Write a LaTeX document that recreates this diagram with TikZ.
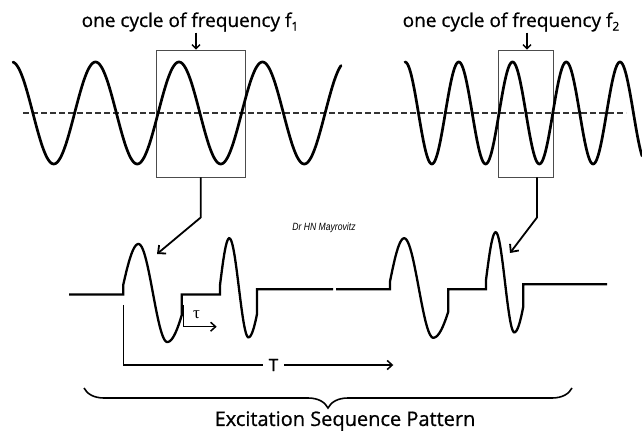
\documentclass[tikz,border=0pt]{standalone}
\usepackage{fontspec}
\setmainfont{Open Sans}[FakeBold=0.7]
\newfontfamily\sigfont{Liberation Sans}
\newfontfamily\greekfont{Liberation Serif}
\usetikzlibrary{arrows.meta,decorations.pathreplacing}
% #1 x0, #2 x peak, #3 x trough, #4 x1, #5 centre, #6 amplitude, #7 start phase, #8 end phase
\newcommand{\pulse}[8]{%
 -- plot[domain=#1:#2,samples=30] (\x,{#5-#6*sin(#7+(\x-#1)/(#2-#1)*(90-#7))})
 -- plot[domain=#2:#3,samples=50] (\x,{#5-#6*sin(90+(\x-#2)/(#3-#2)*180)})
 -- plot[domain=#3:#4,samples=25] (\x,{#5-#6*sin(270+(\x-#3)/(#4-#3)*(#8-270))})
}
\newcommand{\subone}[1]{\raisebox{-0.35ex}{\fontsize{12}{12}\selectfont #1}}
\begin{document}
\begin{tikzpicture}[x=1pt,y=-1pt,
  wave/.style={line width=2.7pt,line join=round,line cap=round},
  sig/.style={line width=2.3pt,line join=miter},
  midline/.style={line width=1.6pt,black!80,dash pattern=on 5.5pt off 3.5pt},
  framebox/.style={draw=black!70,line width=0.9pt,minimum width=#1,minimum height=127pt,inner sep=0pt},
  titletext/.style={font=\fontsize{19}{21}\selectfont,inner sep=1pt},
  smallarr/.style={line width=1.3pt,-{Straight Barb[length=4pt,width=8pt]}},
  conn/.style={line width=1.8pt,-{Straight Barb[length=6pt,width=11pt]}},
  timearr/.style={line width=1.5pt},
  timehead/.style={line width=1.5pt,-{Straight Barb[length=5pt,width=9pt]}},
  bracestyle/.style={line width=1.6pt,decorate,decoration={brace,amplitude=20pt,mirror}}
]
\fill[white] (0,0) rectangle (642,435);
\useasboundingbox (0,0) rectangle (642,435);

% titles
\node[titletext] (t1) at (190,22) {one cycle of frequency f\subone{1}};
\node[titletext] (t2) at (511,22) {one cycle of frequency f\subone{2}};

% frames
\node[framebox=88.5pt] (b1) at (200.75,113.5) {};
\node[framebox=55pt] (b2) at (525.5,113.5) {};

% dashed mid line
\coordinate (m0) at (23,113);
\coordinate (m1) at (626,113);
\draw[midline] (m0) -- (m1);

% carrier waves
\draw[wave] plot[domain=13:341,samples=300] (\x,{113-51*cos((\x-95.5)/83.5*360)});
\draw[wave] plot[domain=405:642,samples=300] (\x,{113-51*cos((\x-405)/53.75*360)});

% arrows from titles into frames
\coordinate (k1) at (196,0);
\coordinate (k2) at (527,0);
\draw[smallarr] (t1.south -| k1) -- (b1.north -| k1);
\draw[smallarr] (t2.south -| k2) -- (b2.north -| k2);

% connectors from frames to pulses
\coordinate (h1) at (157,254);
\coordinate (v2) at (537,0);
\coordinate (h2) at (510,253);
\draw[conn] (b1.south) -- ++(0,40) -- (h1);
\draw[conn] (b2.south -| v2) -- ++(0,40) -- (h2);

% excitation sequence
\draw[sig] (69,294.5) -- (123.3,294.5)
  \pulse{123.3}{138.5}{167.3}{181.7}{293}{49}{9.9}{333}
  -- (181.7,294.5) -- (220,294.5)
  \pulse{220}{229.3}{248.5}{257}{287.8}{49.5}{3}{328}
  -- (257,289.3) -- (333,289.3);
\draw[sig] (336,289.3) -- (390,289.3)
  \pulse{390}{404.2}{433.3}{448.3}{288}{49.7}{7.5}{331.7}
  -- (448.3,289.3) -- (486,289.3)
  \pulse{486}{495.7}{514.3}{523.3}{282.3}{50}{2.6}{331.1}
  -- (523.3,284.3) -- (607,284.3);

% signature
\node[font=\sigfont\itshape\fontsize{10.5}{10.5}\selectfont,inner sep=0pt,xscale=0.82] (sg) at (324,228) {Dr HN Mayrovitz};

% tau
\coordinate (ta0) at (183.3,305);
\coordinate (ta1) at (183.3,326.7);
\coordinate (ta2) at (216.7,326.7);
\draw[timehead] (ta0) -- (ta1) -- (ta2);
\node[font=\greekfont\fontsize{17}{17}\selectfont,inner sep=0pt] (tau) at (196.5,315) {τ};

% T
\node[font=\fontsize{17}{17}\selectfont,inner xsep=6pt,inner ysep=0pt] (TT) at (273.5,365) {T};
\coordinate (T0) at (123.3,305);
\coordinate (T2) at (393.3,365);
\draw[timearr] (T0) |- (TT.west);
\draw[timehead] (TT.east) -- (T2);

% brace
\coordinate (br0) at (84,388);
\coordinate (br1) at (572,388);
\draw[bracestyle] (br0) -- (br1);
\node[font=\fontsize{20}{22}\selectfont] (ex) at (345,421) {Excitation Sequence Pattern};
\end{tikzpicture}
\end{document}
